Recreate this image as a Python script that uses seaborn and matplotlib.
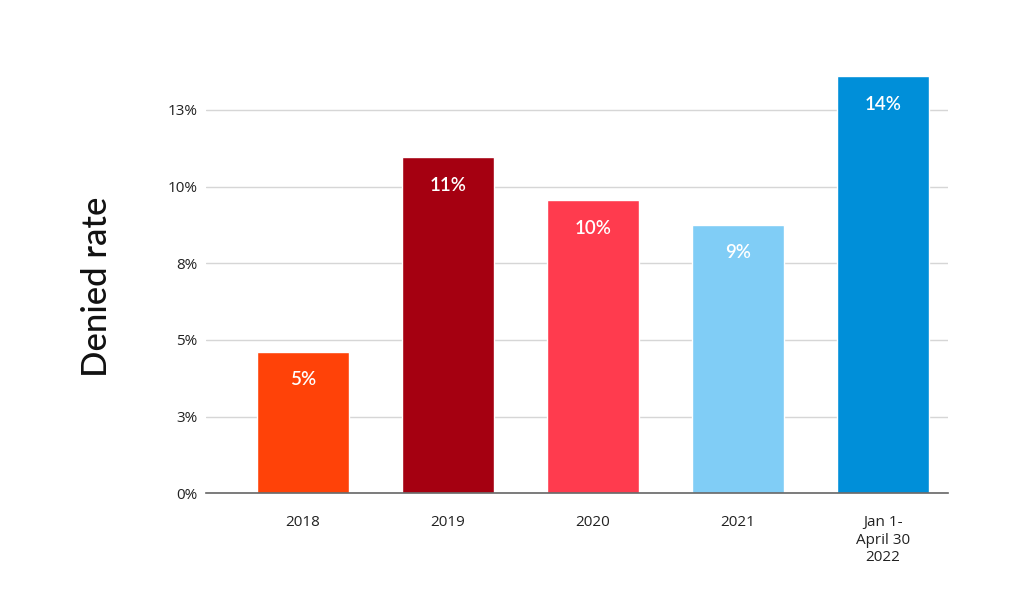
import pandas as pd
import numpy as np
import matplotlib.pyplot as plt
import seaborn as sns

# ── Data ──────────────────────────────────────────────────────
periods = ["2018", "2019", "2020", "2021", "Jan 1-\nApril 30\n2022"]
denied_rate = [4.6, 10.95, 9.55, 8.75, 13.6]
bar_labels = ["5%", "11%", "10%", "9%", "14%"]
bar_colors = ["#FF4208", "#A50011", "#FF3B4E", "#80CDF6", "#008FD9"]
y_ticks = [0, 2.5, 5, 7.5, 10, 12.5]
y_tick_labels = ["0%", "3%", "5%", "8%", "10%", "13%"]

df = pd.DataFrame({"period": periods, "rate": denied_rate})

sns.set_style("white")
plt.rcParams["font.family"] = ["Open Sans", "DejaVu Sans"]

fig = plt.figure(figsize=(10.24, 6.15), dpi=100)
ax = fig.add_axes([0.201, 0.198, 0.725, 0.698])

sns.barplot(data=df, x="period", y="rate", hue="period", palette=bar_colors,
            legend=False, width=0.64, saturation=1, ax=ax)

for i, (v, lab) in enumerate(zip(denied_rate, bar_labels)):
    ax.annotate(lab, (i, v), xytext=(0, -20), textcoords="offset points",
                ha="center", va="center", color="white", fontsize=13.5,
                family=["Lato", "DejaVu Sans"], fontweight="semibold")

ax.set_xlim(-0.67, 4.45)
ax.set_ylim(0, 14)
ax.set_yticks(y_ticks)
ax.set_yticklabels(y_tick_labels)
ax.yaxis.grid(True, color="#d6d6d6", linewidth=1)
ax.set_axisbelow(True)
for s in ["top", "right", "left"]:
    ax.spines[s].set_visible(False)
ax.spines["bottom"].set_color("#666666")
ax.spines["bottom"].set_linewidth(1.2)
ax.tick_params(axis="x", length=0, pad=16, labelsize=11, labelcolor="#222222")
ax.tick_params(axis="y", length=0, pad=6, labelsize=11, labelcolor="#222222")
ax.set_xlabel("")
ax.set_ylabel("Denied rate", fontsize=25, color="#111111",
              family=["Lato", "DejaVu Sans"], fontweight="medium",
              va="center")
ax.yaxis.set_label_coords(-0.147, 0.48)

plt.savefig("out.png", dpi=100)
